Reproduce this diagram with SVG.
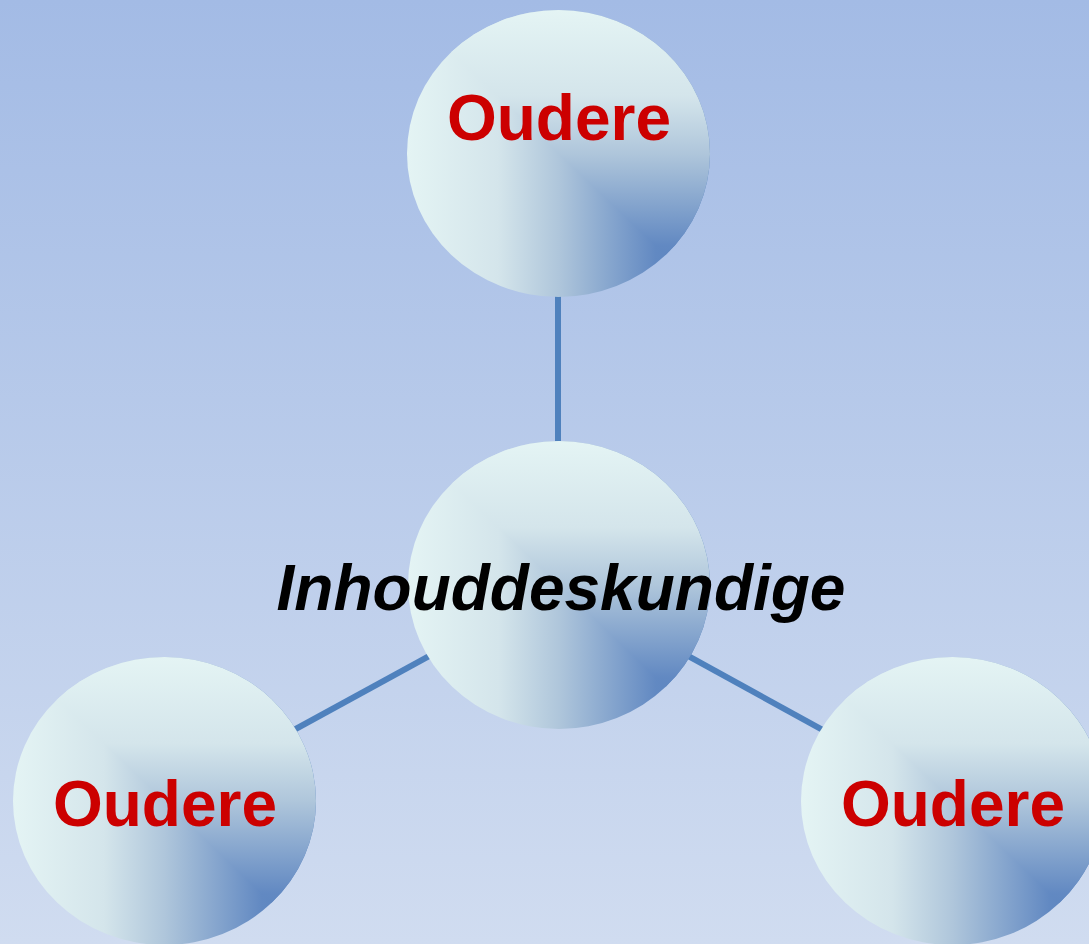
<svg xmlns="http://www.w3.org/2000/svg" width="1089" height="944" viewBox="0 0 1089 944">
  <defs>
    <linearGradient id="bg" x1="0" y1="0" x2="0" y2="1">
      <stop offset="0" stop-color="#A3BBE5"/>
      <stop offset="1" stop-color="#D0DCF0"/>
    </linearGradient>
    <linearGradient id="gh" x1="0" y1="0" x2="1" y2="0">
      <stop offset="0" stop-color="#E4F4F4"/>
      <stop offset="0.3" stop-color="#D4E5EB"/>
      <stop offset="0.5" stop-color="#AFC6DB"/>
      <stop offset="0.82" stop-color="#6289C2"/>
      <stop offset="1" stop-color="#5580BD"/>
    </linearGradient>
    <linearGradient id="gv" x1="0" y1="0" x2="0" y2="1">
      <stop offset="0" stop-color="#E4F4F4"/>
      <stop offset="0.3" stop-color="#D4E5EB"/>
      <stop offset="0.5" stop-color="#AFC6DB"/>
      <stop offset="0.82" stop-color="#6289C2"/>
      <stop offset="1" stop-color="#5580BD"/>
    </linearGradient>
    <clipPath id="ur" clipPathUnits="objectBoundingBox">
      <polygon points="0,0 1,0 1,1"/>
    </clipPath>
    <style>
      .conn { stroke: #4F81BD; stroke-width: 6; fill: none; }
      .lo { fill: url(#gh); }
      .hi { fill: url(#gv); clip-path: url(#ur); }
      .red { font-family: "Liberation Sans", Arial, sans-serif; font-weight: bold; font-size: 64px; fill: #CC0000; text-anchor: middle; }
      .blk { font-family: "Liberation Sans", Arial, sans-serif; font-weight: bold; font-style: italic; font-size: 64px; fill: #000000; text-anchor: middle; }
    </style>
  </defs>
  <rect x="0" y="0" width="1089" height="944" fill="url(#bg)"/>
  <g id="connectors">
    <line class="conn" x1="558" y1="153" x2="558" y2="585"/>
    <line class="conn" x1="559" y1="585" x2="164" y2="801"/>
    <line class="conn" x1="559" y1="585" x2="952" y2="801"/>
  </g>
  <g id="node-top">
    <ellipse class="lo" cx="558.5" cy="153.5" rx="151.5" ry="143.5"/>
    <ellipse class="hi" cx="558.5" cy="153.5" rx="151.5" ry="143.5"/>
    <text class="red" x="559" y="140">Oudere</text>
  </g>
  <g id="node-center">
    <ellipse class="lo" cx="559" cy="585" rx="151" ry="144"/>
    <ellipse class="hi" cx="559" cy="585" rx="151" ry="144"/>
    <text class="blk" x="561" y="610">Inhouddeskundige</text>
  </g>
  <g id="node-left">
    <ellipse class="lo" cx="164.5" cy="801" rx="151.5" ry="144"/>
    <ellipse class="hi" cx="164.5" cy="801" rx="151.5" ry="144"/>
    <text class="red" x="165" y="826">Oudere</text>
  </g>
  <g id="node-right">
    <ellipse class="lo" cx="952.5" cy="801" rx="151.5" ry="144"/>
    <ellipse class="hi" cx="952.5" cy="801" rx="151.5" ry="144"/>
    <text class="red" x="953" y="826">Oudere</text>
  </g>
</svg>
